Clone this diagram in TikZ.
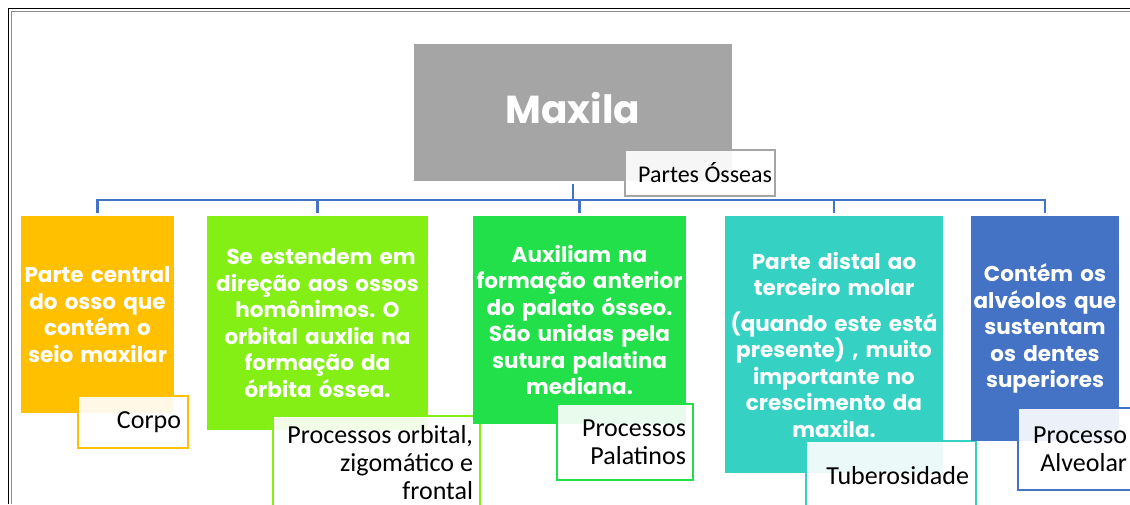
\documentclass[tikz,border=0pt]{standalone}
\usepackage{fontspec}
\setmainfont{Carlito}
\newfontfamily\gothic{Poppins}
\frenchspacing
\definecolor{bone_gray}{RGB}{165,165,165}
\definecolor{box_orange}{RGB}{255,192,0}
\definecolor{box_lime}{RGB}{132,239,21}
\definecolor{box_green}{RGB}{34,224,74}
\definecolor{box_teal}{RGB}{53,210,196}
\definecolor{box_blue}{RGB}{68,114,196}

\begin{document}
\begin{tikzpicture}[x=1pt,y=-1pt,semithick]
    \tikzstyle{card}=[rectangle, inner xsep=2pt, inner ysep=0pt, align=center, text=white, font=\gothic\bfseries\fontsize{21.5}{26.5}\selectfont]
    \tikzstyle{tag}=[rectangle, draw, line width=2pt, fill=white, fill opacity=0.9, text opacity=1, text=black, inner xsep=7pt, inner ysep=0pt, align=flush right, font=\fontsize{26}{28}\selectfont]
    \tikzstyle{bus}=[draw=box_blue, line width=2.5pt]
    \useasboundingbox (0,0) rectangle (1130,504);
    \clip (0,0) rectangle (1130,504);

    % frame
    \draw[black!45, line width=1pt] (11,504) -- (11,11) -- (1130,11);
    \draw[black, line width=1.8pt] (8.5,504) -- (8.5,8.5) -- (1130,8.5);

    % root
    \node[card, fill=bone_gray, text width=314pt, minimum height=137pt, font=\gothic\bfseries\fontsize{39}{44}\selectfont] (maxila) at (573,112.5) {\raisebox{9pt}{Maxila}};
    \node[tag, draw=bone_gray, text width=144pt, inner xsep=3pt, minimum height=46pt, font=\fontsize{24}{28}\selectfont] (partes) at (700,173) {Partes Ósseas};

    % children
    \node[card, fill=box_orange, text width=149pt, minimum height=197pt] (corpo) at (97.5,314.5)
      {Parte central\\do osso que\\contém o\\seio maxilar};
    \node[tag, draw=box_orange, text width=96pt, minimum height=52pt] (corpo_t) at (133,422) {Corpo};

    \node[card, fill=box_lime, text width=217pt, minimum height=214pt] (orbital) at (317.5,323)
      {\ Se estendem em\\direção aos ossos\\homônimos. O\\orbital auxlia na\\formação da\\órbita óssea.};
    \node[tag, draw=box_lime, text width=193pt, minimum height=93pt] (orbital_t) at (376.5,462.5)
      {Processos orbital,\\zigomático e\\frontal};

    \node[card, fill=box_green, text width=209pt, minimum height=208pt] (palat) at (579.5,320)
      {Auxiliam na\\formação anterior\\do palato ósseo.\\São unidas pela\\sutura palatina\\mediana.};
    \node[tag, draw=box_green, text width=122pt, minimum height=76pt] (palat_t) at (625,442)
      {Processos\\Palatinos};

    \node[card, fill=box_teal, text width=214pt, minimum height=257pt] (tuber) at (834,344.5)
      {Parte distal ao\\terceiro molar\\[9pt](quando este está\\presente) , muito\\importante no\\crescimento da\\maxila.};
    \node[tag, draw=box_teal, text width=156pt, minimum height=70pt] (tuber_t) at (891,476) {Tuberosidade};

    \node[card, fill=box_blue, text width=144pt, minimum height=225pt] (alveo) at (1045,328.5)
      {Contém os\\alvéolos que\\sustentam\\os dentes\\superiores};
    \node[tag, draw=box_blue, text width=102pt, minimum height=82pt] (alveo_t) at (1076,449)
      {Processo\\Alveolar};

    % connectors
    \coordinate (hub) at (573,200);
    \path[bus]
     (maxila) edge[shorten <=3pt] (hub)
     (hub) edge[to path={-| (\tikztotarget)}, shorten >=3pt] (corpo)
     (hub) edge[to path={-| (\tikztotarget)}, shorten >=3pt] (orbital)
     (hub) edge[to path={-| (\tikztotarget)}, shorten >=3pt] (palat)
     (hub) edge[to path={-| (\tikztotarget)}, shorten >=3pt] (tuber)
     (hub) edge[to path={-| (\tikztotarget)}, shorten >=3pt] (alveo)
     ;
\end{tikzpicture}
\end{document}
